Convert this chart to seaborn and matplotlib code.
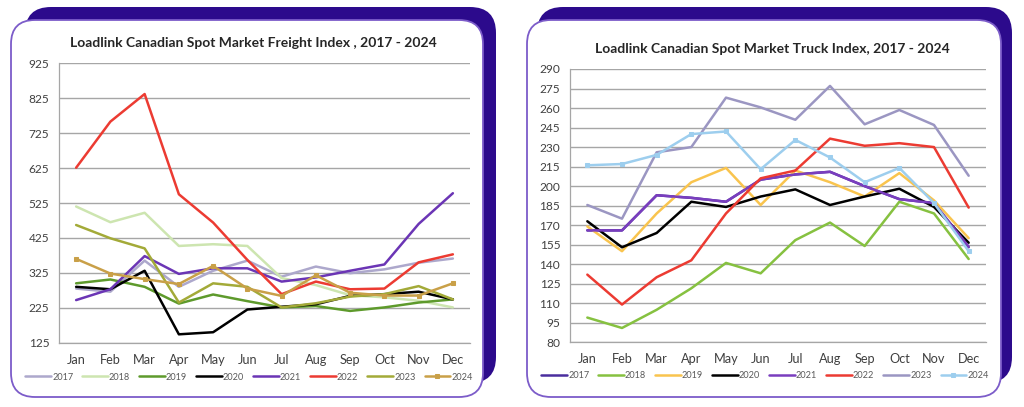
import numpy as np
import pandas as pd
import matplotlib
matplotlib.use("Agg")
import matplotlib.pyplot as plt
import seaborn as sns
from matplotlib.patches import FancyBboxPatch
from matplotlib.transforms import IdentityTransform
from matplotlib.ticker import FixedLocator

# ---------------- data ----------------
months = ["Jan", "Feb", "Mar", "Apr", "May", "Jun", "Jul", "Aug", "Sep", "Oct", "Nov", "Dec"]
years = ["2017", "2018", "2019", "2020", "2021", "2022", "2023", "2024"]

freight_2017 = [280, 271, 360, 285, 331, 360, 314, 343, 324, 335, 354, 366]
freight_2018 = [515, 470, 497, 402, 407, 402, 310, 290, 261, 255, 245, 226]
freight_2019 = [295, 306, 285, 237, 263, 244, 226, 230, 216, 226, 240, 249]
freight_2020 = [285, 278, 331, 149, 155, 220, 228, 235, 259, 264, 271, 249]
freight_2021 = [247, 278, 373, 322, 338, 338, 300, 312, 331, 349, 465, 553]
freight_2022 = [626, 758, 837, 550, 469, 362, 264, 300, 278, 280, 355, 378]
freight_2023 = [462, 424, 395, 240, 295, 285, 226, 238, 257, 264, 287, 249]
freight_2024 = [365, 323, 307, 293, 345, 280, 259, 318, 268, 260, 260, 295]

truck_2017 = [166, 166, 193, 191, 188, 205, 209, 211, 200, 190, 187, 153]
truck_2018 = [99, 91, 105, 121.5, 141, 133, 158.5, 172, 154, 188, 179, 144]
truck_2019 = [169, 150, 179, 203, 214, 185.5, 212, 203, 192, 210, 189, 160]
truck_2020 = [173, 153, 164, 188, 184, 192, 197.5, 185.5, 192, 198, 184, 156.5]
truck_2021 = [166, 166, 193, 191, 188, 205, 209, 211, 200, 190, 187, 153.5]
truck_2022 = [132, 109, 130, 143, 179, 206, 212, 236.5, 231, 233, 230, 183.5]
truck_2023 = [185.5, 175, 226, 230, 268, 260.5, 251, 277, 247.5, 258.5, 247, 208]
truck_2024 = [216, 217, 224, 240, 242, 213, 235.5, 222, 203, 214, 187, 150]

freight_series = [freight_2017, freight_2018, freight_2019, freight_2020,
                  freight_2021, freight_2022, freight_2023, freight_2024]
truck_series = [truck_2017, truck_2018, truck_2019, truck_2020,
                truck_2021, truck_2022, truck_2023, truck_2024]

freight_colors = ["#ADA8CC", "#CDE5B0", "#5E9A2C", "#000000",
                  "#6B35B5", "#EC3B32", "#A3AA38", "#C9A048"]
truck_colors = ["#4A2E9E", "#86C140", "#F9C44E", "#000000",
                "#7A3EBE", "#EC3B32", "#9B96C2", "#9DCEEE"]

freight_title = "Loadlink Canadian Spot Market Freight Index , 2017 - 2024"
truck_title = "Loadlink Canadian Spot Market Truck Index, 2017 - 2024"

# ---------------- style ----------------
sns.set_style("white")
plt.rcParams["font.family"] = ["Lato", "DejaVu Sans"]

W, H = 1024, 407
fig = plt.figure(figsize=(W / 100, H / 100), dpi=100)
fig.patch.set_facecolor("white")

DARK = "#2C0A8C"
BORDER = "#7C5CC9"


def panel(x0, x1, y0, y1, dx0, dx1, dy0, dy1):
    back = FancyBboxPatch((dx0, H - dy1), dx1 - dx0, dy1 - dy0,
                          boxstyle="round,pad=0,rounding_size=26",
                          transform=IdentityTransform(), facecolor=DARK,
                          edgecolor="none", zorder=0)
    front = FancyBboxPatch((x0, H - y1), x1 - x0, y1 - y0,
                           boxstyle="round,pad=0,rounding_size=24",
                           transform=IdentityTransform(), facecolor="white",
                           edgecolor=BORDER, linewidth=1.3, zorder=1)
    fig.patches.append(back)
    fig.patches.append(front)


panel(11, 483, 20, 397, 25, 496, 7, 383)
panel(527, 1001, 20, 397, 537, 1012, 7, 383)


def make_axes(px0, px1, py_top, py_bot):
    ax = fig.add_axes([px0 / W, 1 - py_bot / H, (px1 - px0) / W, (py_bot - py_top) / H])
    ax.set_zorder(5)
    ax.patch.set_alpha(0)
    return ax


def draw(ax, series, colors, ymin, ymax, step):
    x = np.arange(len(months))
    for yr, vals, col in zip(years, series, colors):
        df = pd.DataFrame({"m": x, "v": vals})
        kw = {}
        if yr == "2024":
            kw = dict(marker="s", markersize=6, markeredgecolor=col,
                      markerfacecolor=col)
        sns.lineplot(data=df, x="m", y="v", ax=ax, color=col, linewidth=2.2,
                     label=yr, sort=False, **kw)
    ax.set_xlim(-0.5, 11.5)
    ax.set_ylim(ymin, ymax)
    ax.set_yticks(np.arange(ymin, ymax + 1, step))
    ax.set_xticks(x)
    ax.set_xticklabels(months)
    ax.xaxis.set_minor_locator(FixedLocator(np.arange(-0.5, 12, 1)))
    ax.tick_params(axis="x", which="major", length=0, pad=8, labelsize=9.2,
                   labelcolor="#404040")
    ax.tick_params(axis="x", which="minor", length=4, color="#A6A6A6",
                   direction="out", width=0.9)
    ax.tick_params(axis="y", length=4, color="#A6A6A6", direction="out",
                   labelsize=8.6, labelcolor="#404040", pad=3, width=0.9)
    ax.grid(axis="y", color="#A6A6A6", linewidth=1.0)
    ax.set_axisbelow(True)
    for s in ["top", "right"]:
        ax.spines[s].set_visible(False)
    for s in ["left", "bottom"]:
        ax.spines[s].set_color("#A6A6A6")
        ax.spines[s].set_linewidth(0.9)
    ax.set_xlabel("")
    ax.set_ylabel("")
    h, l = ax.get_legend_handles_labels()
    ax.get_legend().remove()
    return h, l


axL = make_axes(59, 470, 63.3, 342.7)
hL, lL = draw(axL, freight_series, freight_colors, 125, 925, 100)
axR = make_axes(570, 986, 69, 342.3)
hR, lR = draw(axR, truck_series, truck_colors, 80, 290, 15)

fig.text(253 / W, 1 - 43 / H, freight_title, ha="center", va="center",
         fontsize=10, fontweight="bold", color="#262626")
fig.text(772 / W, 1 - 49 / H, truck_title, ha="center", va="center",
         fontsize=10, fontweight="bold", color="#262626")

for h in hL + hR:
    h.set_linewidth(1.8)
    if h.get_marker() not in (None, "None", ""):
        h.set_markersize(3.5)

legL = fig.legend(hL, lL, loc="center", bbox_to_anchor=(249 / W, 1 - 377 / H),
                  ncol=8, frameon=False, fontsize=6.6, handlelength=2.8,
                  handletextpad=0.1, columnspacing=1.0, labelcolor="#595959")
legR = fig.legend(hR, lR, loc="center", bbox_to_anchor=(765 / W, 1 - 376 / H),
                  ncol=8, frameon=False, fontsize=6.6, handlelength=2.8,
                  handletextpad=0.1, columnspacing=1.0, labelcolor="#595959")
legL.set_zorder(6)
legR.set_zorder(6)

fig.savefig("out.png", dpi=100, facecolor="white")
